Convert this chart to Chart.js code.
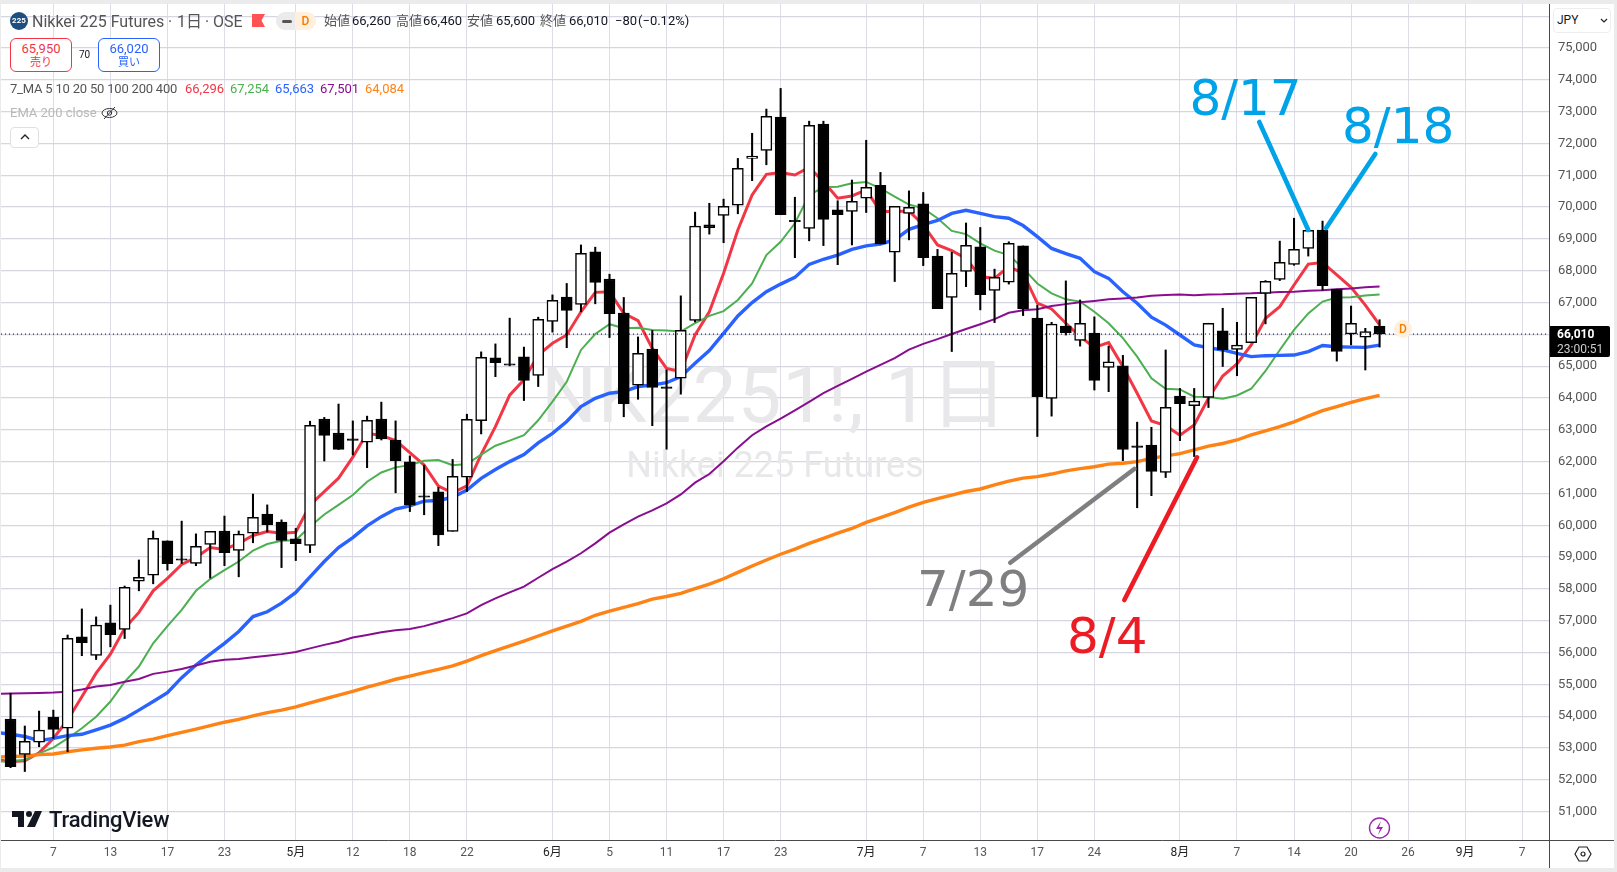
<!DOCTYPE html>
<html>
<head>
<meta charset="utf-8">
<script src="https://cdn.jsdelivr.net/npm/chart.js@4"></script>
<style>
  html, body { margin: 0; padding: 0; background: #ebebeb; }
  body { width: 1617px; height: 872px; position: relative; overflow: hidden; font-family: Roboto, "Noto Sans CJK JP", sans-serif; }
  #pane { position: absolute; left: 1px; top: 4px; width: 1613px; height: 864px; background: #fff; }
  #myChart { position: absolute; left: 0; top: 0; }
  .t { position: absolute; white-space: nowrap; font-size: 13px; line-height: 16px; color: #555; }
  .k { color: #131722; }
  .box { position: absolute; box-sizing: border-box; border-radius: 6px; background: #fff; text-align: center; }
</style>
</head>
<body>
<div id="pane"></div>
<canvas id="myChart" width="1617" height="872"></canvas>

<!-- header -->
<div style="position:absolute;left:10px;top:12px;width:18px;height:18px;border-radius:9px;background:#1c4e80;color:#fff;font-size:8px;font-weight:700;line-height:18px;text-align:center;">225</div>
<div class="t" style="left:32px;top:13px;font-size:16px;line-height:18px;">Nikkei 225 Futures</div>
<div class="t" style="left:168px;top:13px;font-size:16px;line-height:18px;">·</div>
<div class="t" style="left:177px;top:13px;font-size:16px;line-height:18px;">1日</div>
<div class="t" style="left:205px;top:13px;font-size:16px;line-height:18px;">·</div>
<div class="t" style="left:213px;top:13px;font-size:16px;line-height:18px;">OSE</div>
<svg style="position:absolute;left:252px;top:14px" width="13" height="13"><path d="M0 0H13L9.5 6.5L13 13H0Z" fill="#ff5252"/></svg>
<div style="position:absolute;left:276px;top:12px;width:21px;height:18px;background:#ebebeb;border-radius:9px 0 0 9px;"></div>
<div style="position:absolute;left:282px;top:20px;width:10px;height:3px;background:#555;border-radius:2px;"></div>
<div style="position:absolute;left:295px;top:12px;width:21px;height:18px;background:#ffefdc;border-radius:0 9px 9px 0;color:#f57c00;font-size:12px;font-weight:500;line-height:18px;text-align:center;">D</div>
<div class="t" style="left:324px;top:13px;">始値</div><div class="t k" style="left:352px;top:13px;">66,260</div>
<div class="t" style="left:396px;top:13px;">高値</div><div class="t k" style="left:423px;top:13px;">66,460</div>
<div class="t" style="left:467px;top:13px;">安値</div><div class="t k" style="left:496px;top:13px;">65,600</div>
<div class="t" style="left:540px;top:13px;">終値</div><div class="t k" style="left:569px;top:13px;">66,010</div>
<div class="t k" style="left:615px;top:13px;">−80</div><div class="t k" style="left:638px;top:13px;">(−0.12%)</div>

<div class="box" style="left:10px;top:38px;width:62px;height:34px;border:1px solid #f23645;color:#f23645;">
  <div style="font-size:13px;line-height:15px;margin-top:2px;">65,950</div><div style="font-size:11px;line-height:14px;">売り</div>
</div>
<div class="t k" style="left:79px;top:47px;font-size:10px;">70</div>
<div class="box" style="left:98px;top:38px;width:62px;height:34px;border:1px solid #2962ff;color:#2962ff;">
  <div style="font-size:13px;line-height:15px;margin-top:2px;">66,020</div><div style="font-size:11px;line-height:14px;">買い</div>
</div>

<div class="t" style="left:10px;top:81px;letter-spacing:-0.2px;">7_MA 5 10 20 50 100 200 400</div>
<div class="t" style="left:185px;top:81px;color:#f23645;">66,296</div>
<div class="t" style="left:230px;top:81px;color:#4caf50;">67,254</div>
<div class="t" style="left:275px;top:81px;color:#2962ff;">65,663</div>
<div class="t" style="left:320px;top:81px;color:#880e8f;">67,501</div>
<div class="t" style="left:365px;top:81px;color:#ff8214;">64,084</div>
<div class="t" style="left:10px;top:105px;color:#b8b8b8;">EMA 200 close</div>
<svg style="position:absolute;left:101px;top:105px" width="17" height="16" fill="none" stroke="#333" stroke-width="1"><ellipse cx="8.5" cy="8" rx="7.5" ry="4.5"/><circle cx="8.5" cy="8" r="2.2"/><path d="M14 2L3 14"/></svg>
<div class="box" style="left:10px;top:127px;width:29px;height:21px;border:1px solid #e0e0e0;border-radius:4px;"></div>
<svg style="position:absolute;left:20px;top:133px" width="10" height="8" fill="none" stroke="#222" stroke-width="1.4"><path d="M1 6L5 2L9 6"/></svg>

<!-- right axis widgets -->
<div style="position:absolute;left:1549px;top:4px;width:1px;height:864px;background:#4a4a4a;"></div>
<div style="position:absolute;left:1549px;top:840px;width:65px;height:1px;background:#4a4a4a;"></div>
<div class="box" style="left:1553px;top:8px;width:58px;height:25px;border:1px solid #eee;border-radius:4px;"></div>
<div class="t k" style="left:1557px;top:12px;font-size:12px;">JPY</div>
<svg style="position:absolute;left:1600px;top:18px" width="8" height="6" fill="none" stroke="#222" stroke-width="1.2"><path d="M1 1L4 4L7 1"/></svg>
<div style="position:absolute;left:1550px;top:326px;width:60px;height:31px;background:#000;border-radius:0 2px 2px 0;"></div>
<div class="t" style="left:1557px;top:326px;font-weight:700;font-size:12px;color:#fff;">66,010</div>
<div class="t" style="left:1557px;top:341px;font-size:12px;color:#ccc;">23:00:51</div>
<div style="position:absolute;left:1394px;top:320px;width:18px;height:18px;border-radius:9px;background:#fff0dd;color:#f57c00;font-size:12px;font-weight:500;line-height:18px;text-align:center;">D</div>

<!-- logo and bottom icons -->
<svg style="position:absolute;left:12px;top:811px" width="30" height="16" fill="#131722"><path d="M0 0H12V16H6V6H0Z"/><circle cx="17" cy="3" r="3"/><path d="M23 0H30L23 16H15Z"/></svg>
<div class="t k" style="left:49px;top:808px;font-size:22px;line-height:24px;font-weight:500;letter-spacing:-0.2px;">TradingView</div>
<svg style="position:absolute;left:1368px;top:817px" width="23" height="22" fill="none" stroke="#9c27b0" stroke-width="1.4"><ellipse cx="11.5" cy="11" rx="10" ry="10"/><path d="M13 4L8 12H12L10 18L15 10H11Z" fill="#9c27b0" stroke="none"/></svg>
<svg style="position:absolute;left:1574px;top:846px" width="18" height="16" fill="none" stroke="#222" stroke-width="1.2"><path d="M5 1H13L17 8L13 15H5L1 8Z"/><circle cx="9" cy="8" r="2"/></svg>

<script>
// price scale
const yMin = 50108;
const yMax = 76383;
const lastPrice = 66010;
const yTickValues = [51000, 52000, 53000, 54000, 55000, 56000, 57000, 58000, 59000, 60000, 61000, 62000, 63000, 64000, 65000, 66000, 67000, 68000, 69000, 70000, 71000, 72000, 73000, 74000, 75000, 76000];

// bar index of each date label
const xTickIndex = [3, 7, 11, 15, 20, 24, 28, 32, 38, 42, 46, 50, 54, 60, 64, 68, 72, 76, 82, 86, 90, 94, 98, 102, 106];
const xTickLabels = ["7", "13", "17", "23", "5月", "12", "18", "22", "6月", "5", "11", "17", "23", "7月", "7", "13", "17", "24", "8月", "7", "14", "20", "26", "9月", "7"];
const xMonthLabels = ["5月", "6月", "7月", "8月", "9月"];

const opens = [
  53910,52800,53180,53970,53620,56490,55910,56930,56730,58240,
  58430,59510,58900,58800,59400,59820,59210,59750,60350,60100,
  59570,59370,63340,62900,62670,62610,63340,62680,61990,60880,
  61050,59810,61510,63290,65260,65030,65290,64710,66410,67170,
  66940,68590,67740,66670,64400,65540,64300,64620,66440,69440,
  69740,70060,71530,71780,72830,69540,69330,72610,69910,69860,
  70280,70680,68580,69800,70100,68460,67160,67980,68750,67380,
  67640,68780,66510,63990,66260,65810,66040,64960,65010,62450,
  62520,61660,64060,63760,64020,66110,65530,65740,67290,67730,
  68200,68700,69280,67420,66010,65910,66260];
const highs = [
  54720,53690,54160,54190,56550,57370,57120,57490,58090,58910,
  59820,59510,60130,59730,59810,60290,59820,60980,60640,60170,
  59900,63270,63390,63810,63280,63430,63870,63280,62180,61890,
  61190,62070,63490,65450,65700,66510,65600,66540,67240,67600,
  68810,68740,67890,67160,65920,66120,64880,67210,69840,70120,
  70250,71530,72320,73080,73730,70310,72700,72700,70200,70850,
  72100,71090,70020,70510,70460,68670,68580,69500,69360,68050,
  68910,68780,66920,66380,67680,67080,66550,65630,65340,63240,
  63080,65510,64300,64300,66350,66820,66380,67160,67690,68930,
  69650,69270,69560,67420,66890,66190,66460];
const lows = [
  52380,52260,53040,53300,52880,55900,55780,56180,56440,57940,
  58160,58590,58800,58730,58340,58730,58380,59450,59790,58670,
  58890,59140,62020,62380,62210,61810,62680,61020,60430,60330,
  59360,59810,61060,62870,64670,65010,63920,64360,66070,65580,
  66710,66960,65900,63410,63960,63130,62390,64120,66390,69150,
  68880,69790,70830,71330,69760,68410,68940,68790,68190,68810,
  69830,68840,67660,68970,68160,66810,65460,67500,66770,66370,
  67580,66590,62790,63430,65980,65630,64250,64200,62030,60550,
  60930,61500,62660,62160,63700,64990,64700,65740,66330,67690,
  68170,68460,67390,65160,65670,64880,65600];
const closes = [
  52410,53210,53560,53580,56450,56310,56860,56560,58050,58360,
  59590,58790,58900,59340,59810,59140,59720,60250,60020,59520,
  59420,63140,62820,62380,62670,63300,62710,62030,60640,60880,
  59700,61540,63330,65280,65110,65030,64550,66470,67070,66750,
  68550,67630,66650,63820,65400,64330,64300,66130,69400,69350,
  70020,71220,71600,72850,69760,69540,72570,69610,69760,70180,
  70620,68840,70020,69990,68410,66810,67920,68800,67250,67790,
  68860,66810,64040,66320,66050,66350,64550,65140,62380,62450,
  61690,63710,63820,63900,66350,65510,65660,67160,67670,68260,
  68670,69270,67530,65460,66350,66090,66010];

// moving averages, first value sits one bar left of the first candle
const ma5 = [
  52640,52570,52600,52850,53300,53880,54610,55350,55950,56760,
  57260,57940,58330,58770,58990,59300,59240,59430,59680,59800,
  59750,59780,60640,61060,61480,62140,62890,62820,62660,62280,
  61890,61230,61020,61240,62230,63100,64090,64570,65350,65720,
  65980,66710,67320,67340,66660,66430,65560,64930,64830,65980,
  66710,67920,69280,70380,71030,71090,71010,71250,70800,70280,
  70350,70540,69860,69860,69880,69440,68810,68630,68390,67810,
  67760,68130,67920,66980,66800,66350,65930,65590,65740,64990,
  64150,63280,63130,62830,63150,63990,64690,65070,65670,66500,
  66870,67550,68210,68260,67870,67480,66920,66296];
const ma10 = [
  52570,52580,52620,52830,53010,53300,53620,53980,54460,55080,
  55560,56290,56830,57340,57940,58310,58590,58860,59200,59410,
  59510,59530,59960,60340,60640,60950,61370,61660,61820,61890,
  62030,62050,61890,61925,62220,62500,62660,62830,63300,63885,
  64510,65510,66010,66320,66190,66210,66140,66120,66090,66350,
  66580,66730,67080,67600,68490,68910,69490,70380,70620,70640,
  70750,70790,70590,70330,70080,69960,69650,69250,69150,68860,
  68630,68490,68080,67600,67290,67100,67030,66710,66350,65880,
  65300,64620,64290,64270,64040,64030,63980,64080,64290,64850,
  65510,66140,66660,67030,67160,67170,67220,67254];
const ma20 = [
  53490,53430,53360,53230,53300,53390,53430,53570,53720,53930,
  54190,54460,54740,55210,55610,55950,56290,56660,57130,57280,
  57550,57890,58380,58860,59300,59610,59980,60270,60510,60610,
  60760,60780,60880,61110,61475,61750,62000,62220,62590,62890,
  63260,63730,63990,64150,64200,64360,64410,64480,64670,65090,
  65490,66030,66580,67000,67340,67580,67790,68200,68360,68490,
  68670,68780,68840,68970,69300,69450,69580,69800,69900,69800,
  69700,69650,69420,69070,68700,68540,68390,67970,67760,67340,
  66980,66540,66290,65980,65670,65580,65510,65400,65300,65330,
  65340,65350,65460,65650,65610,65600,65590,65663];
const ma50 = [
  54700,54710,54720,54730,54740,54770,54840,54930,54980,55080,
  55170,55330,55400,55480,55590,55710,55770,55800,55850,55900,
  55950,56020,56130,56240,56340,56470,56550,56640,56700,56740,
  56830,56950,57080,57230,57490,57700,57890,58070,58350,58620,
  58860,59120,59430,59770,60030,60270,60470,60690,60970,61340,
  61610,62010,62440,62830,63110,63350,63610,63880,64150,64380,
  64600,64830,65040,65250,65520,65700,65850,66010,66170,66320,
  66480,66680,66760,66790,66890,66950,67010,67050,67100,67130,
  67160,67210,67240,67250,67230,67250,67260,67280,67290,67310,
  67330,67340,67370,67390,67420,67440,67480,67501];
const ma100 = [
  52710,52730,52750,52790,52810,52880,52940,52990,53030,53090,
  53200,53280,53390,53490,53590,53700,53810,53900,54010,54110,
  54190,54290,54420,54540,54660,54780,54910,55030,55160,55260,
  55370,55470,55580,55730,55900,56060,56210,56360,56520,56680,
  56830,56980,57170,57300,57420,57540,57680,57760,57860,58010,
  58150,58320,58520,58720,58910,59090,59250,59430,59590,59750,
  59900,60090,60240,60400,60570,60720,60840,60950,61060,61140,
  61270,61390,61480,61530,61610,61710,61780,61840,61920,61950,
  62000,62100,62180,62250,62370,62490,62570,62680,62840,62970,
  63100,63250,63430,63600,63730,63860,63980,64084];

// hand drawn marks: [bar, price, bar, price]
const calloutGrey = [70.1, 58823, 78.8, 61768];
const calloutRed = [78.1, 57651, 83.2, 62136];
const calloutBlue1 = [87.56, 72674, 91.0, 69280];
const calloutBlue2 = [92.25, 69343, 95.7, 71668];
const calloutLabels = ["8/17", "8/18", "7/29", "8/4"];
const calloutBars = [86.6, 97.3, 67.5, 76.9];
const calloutPrices = [73300, 72420, 57870, 56390];
const calloutColors = ["#00a2e8", "#00a2e8", "#7f7f7f", "#ed1c24"];

const xMin = -0.67;
const xMax = 107.88;

function maLine(values, color, width, order) {
  return {
    type: "line",
    data: values.map((v, i) => ({ x: i - 1, y: v })),
    borderColor: color,
    borderWidth: width,
    pointRadius: 0,
    tension: 0,
    order: order
  };
}

function callout(seg, color) {
  return {
    type: "line",
    data: [{ x: seg[0], y: seg[1] }, { x: seg[2], y: seg[3] }],
    borderColor: color,
    borderWidth: 4.6,
    borderCapStyle: "round",
    pointRadius: 0,
    order: -1
  };
}

const overlayText = {
  id: "overlayText",
  beforeDatasetsDraw(chart) {
    const ctx = chart.ctx;
    ctx.save();
    ctx.fillStyle = "#e8e8ea";
    ctx.textAlign = "center";
    ctx.textBaseline = "middle";
    ctx.letterSpacing = "1px";
    ctx.font = '78px Roboto, "Noto Sans CJK JP"';
    ctx.fillText("NK2251!, 1日", 775, 402);
    ctx.letterSpacing = "0px";
    ctx.font = "36px Roboto";
    ctx.fillText("Nikkei 225 Futures", 775, 468);
    ctx.restore();
  },
  afterDatasetsDraw(chart) {
    const ctx = chart.ctx;
    ctx.save();
    ctx.textAlign = "center";
    ctx.textBaseline = "middle";
    ctx.font = '50px "DejaVu Sans"';
    calloutLabels.forEach((s, i) => {
      ctx.fillStyle = calloutColors[i];
      ctx.fillText(s, chart.scales.x.getPixelForValue(calloutBars[i]), chart.scales.y.getPixelForValue(calloutPrices[i]));
    });
    ctx.restore();
  }
};

// axis labels must not eat into the plot, the pane runs to its edges
function noPadding(scale) {
  scale.paddingTop = 0;
  scale.paddingBottom = 0;
  scale.paddingLeft = 0;
  scale.paddingRight = 0;
}

const config = {
  type: "bar",
  data: {
    datasets: [
      callout(calloutGrey, "#7f7f7f"),
      callout(calloutRed, "#ed1c24"),
      callout(calloutBlue1, "#00a2e8"),
      callout(calloutBlue2, "#00a2e8"),
      {
        type: "line",
        data: [{ x: xMin, y: lastPrice }, { x: xMax, y: lastPrice }],
        borderColor: "#000",
        borderWidth: 1,
        borderDash: [1, 3],
        pointRadius: 0,
        order: 0
      },
      {
        type: "bar",
        data: opens.map((o, i) => ({ x: i, y: [o, closes[i]] })),
        backgroundColor: opens.map((o, i) => (closes[i] > o ? "#fff" : "#000")),
        borderColor: "#000",
        borderWidth: 1.5,
        borderSkipped: false,
        barThickness: 11,
        minBarLength: 1.5,
        grouped: false,
        order: 1
      },
      {
        type: "bar",
        data: lows.map((l, i) => ({ x: i, y: [l, highs[i]] })),
        backgroundColor: "#000",
        barThickness: 1.4,
        grouped: false,
        order: 2
      },
      maLine(ma100, "#ff8214", 3.4, 3),
      maLine(ma50, "#880e8f", 2, 4),
      maLine(ma20, "#2962ff", 3.4, 5),
      maLine(ma10, "#4caf50", 2, 6),
      maLine(ma5, "#f23645", 3, 7)
    ]
  },
  options: {
    responsive: false,
    animation: false,
    layout: { padding: { left: 1, top: 4, right: 3, bottom: 4 } },
    plugins: { legend: { display: false }, tooltip: { enabled: false } },
    scales: {
      x: {
        type: "linear",
        min: xMin,
        max: xMax,
        offset: false,
        afterBuildTicks: (scale) => { scale.ticks = xTickIndex.map((v) => ({ value: v })); },
        afterFit: (scale) => { scale.height = 28; noPadding(scale); },
        grid: { color: "#dcdde6", lineWidth: 1, offset: false, drawTicks: false },
        border: { color: "#4a4a4a", width: 1 },
        ticks: {
          autoSkip: false,
          maxRotation: 0,
          padding: 6,
          callback: (value, i) => xTickLabels[i],
          color: (c) => (xMonthLabels.includes(xTickLabels[c.index]) ? "#222" : "#555"),
          font: { family: 'Roboto, "Noto Sans CJK JP"', size: 12 }
        }
      },
      y: {
        position: "right",
        min: yMin,
        max: yMax,
        afterBuildTicks: (scale) => { scale.ticks = yTickValues.map((v) => ({ value: v })); },
        afterFit: (scale) => { scale.width = 65; noPadding(scale); },
        grid: { color: "#d5d6e2", lineWidth: 1.3, drawTicks: false },
        border: { color: "#4a4a4a", width: 1 },
        ticks: {
          autoSkip: false,
          padding: 9,
          callback: (value) => (value > 75000 || value === 66000 ? "" : value.toLocaleString("en-US")),
          color: "#555",
          font: { family: "Roboto", size: 13 }
        }
      }
    }
  },
  plugins: [overlayText]
};

new Chart(document.getElementById("myChart"), config);
</script>
</body>
</html>
